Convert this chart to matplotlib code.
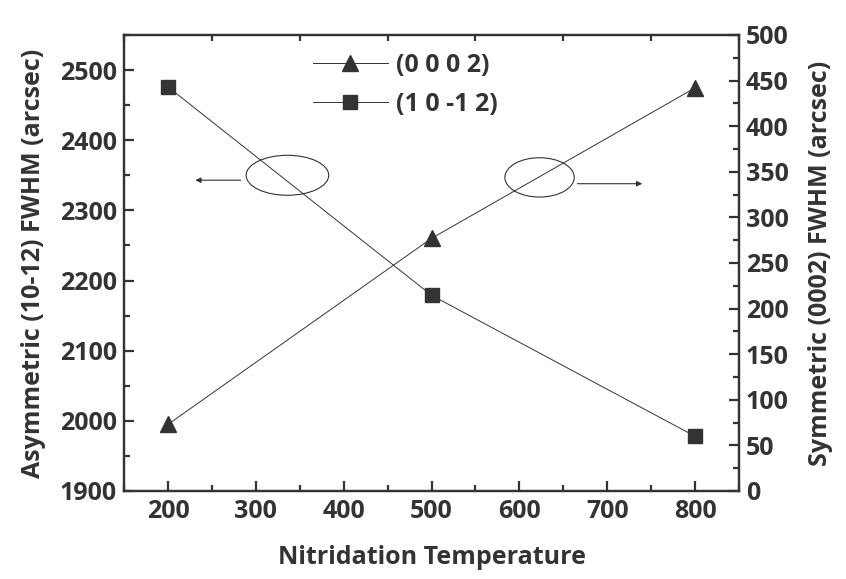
import matplotlib.pyplot as plt
from matplotlib.patches import Ellipse
from matplotlib.lines import Line2D

plt.rcParams['font.family'] = ['Open Sans', 'Roboto', 'DejaVu Sans']
plt.rcParams['font.weight'] = 'bold'
c = '#333333'

temp = [200, 500, 800]
fwhm_1012 = [2476, 2179, 1978]   # eje izquierdo
fwhm_0002 = [73, 277, 442]       # eje derecho

fig = plt.figure(figsize=(8.46, 5.79), dpi=100)
ax = fig.add_axes([0.1466, 0.152, 0.7269, 0.7876])
ax2 = ax.twinx()

ax.plot(temp, fwhm_1012, color=c, lw=0.7, marker='s', ms=10, mec=c, mfc=c)
ax2.plot(temp, fwhm_0002, color=c, lw=0.7, marker='^', ms=11, mec=c, mfc=c)

ax.set_xlim(150, 850)
ax.set_ylim(1900, 2550)
ax2.set_ylim(0, 500)
ax.set_xticks(range(200, 900, 100))
ax.set_xticks(range(150, 851, 50), minor=True)
ax.set_yticks(range(1900, 2501, 100))
ax.set_yticks(range(1950, 2551, 50), minor=True)
ax2.set_yticks(range(0, 501, 50))
ax2.set_yticks(range(25, 500, 50), minor=True)

for a in (ax, ax2):
    for s in a.spines.values():
        s.set_linewidth(1.6)
        s.set_color(c)
    a.tick_params(which='both', direction='in', colors=c, labelsize=18, width=1.6)
    a.tick_params(which='major', length=7, pad=5)
    a.tick_params(which='minor', length=4)
    for lab in a.get_xticklabels() + a.get_yticklabels():
        lab.set_fontweight('bold')
ax.tick_params(which='both', top=True, right=False)
ax.tick_params(which='major', top=False)
ax.tick_params(axis='x', pad=6)
ax2.tick_params(axis='y', which='both', right=True, left=False)

ax.set_xlabel('Nitridation Temperature', fontsize=18, fontweight='bold', color=c, labelpad=15)
ax.set_ylabel('Asymmetric (10-12) FWHM (arcsec)', fontsize=18, fontweight='bold', color=c, labelpad=10)
ax2.set_ylabel('Symmetric (0002) FWHM (arcsec)', fontsize=18, fontweight='bold', color=c, labelpad=14)

# ovalos y flechas
ax.add_patch(Ellipse((336, 2350), 94, 57, fill=False, ec=c, lw=0.8))
ax.annotate('', xy=(228, 2343), xytext=(286, 2343),
            arrowprops=dict(arrowstyle='-|>', color=c, lw=0.8, mutation_scale=8))
ax.add_patch(Ellipse((623, 2347), 79, 56, fill=False, ec=c, lw=0.8))
ax.annotate('', xy=(743, 2338), xytext=(663, 2338),
            arrowprops=dict(arrowstyle='-|>', color=c, lw=0.8, mutation_scale=8))

handles = [Line2D([], [], color=c, lw=0.7, marker='^', ms=11, mfc=c, mec=c),
           Line2D([], [], color=c, lw=0.7, marker='s', ms=10, mfc=c, mec=c)]
leg = ax.legend(handles, ['(0 0 0 2)', '(1 0 -1 2)'], loc='upper left',
                bbox_to_anchor=(0.27, 1.01), frameon=False,
                prop={'family': 'Open Sans', 'weight': 'bold', 'size': 18},
                handlelength=3.0, handletextpad=0.35, labelspacing=0.55, labelcolor=c)

fig.savefig('out.png', dpi=100)
